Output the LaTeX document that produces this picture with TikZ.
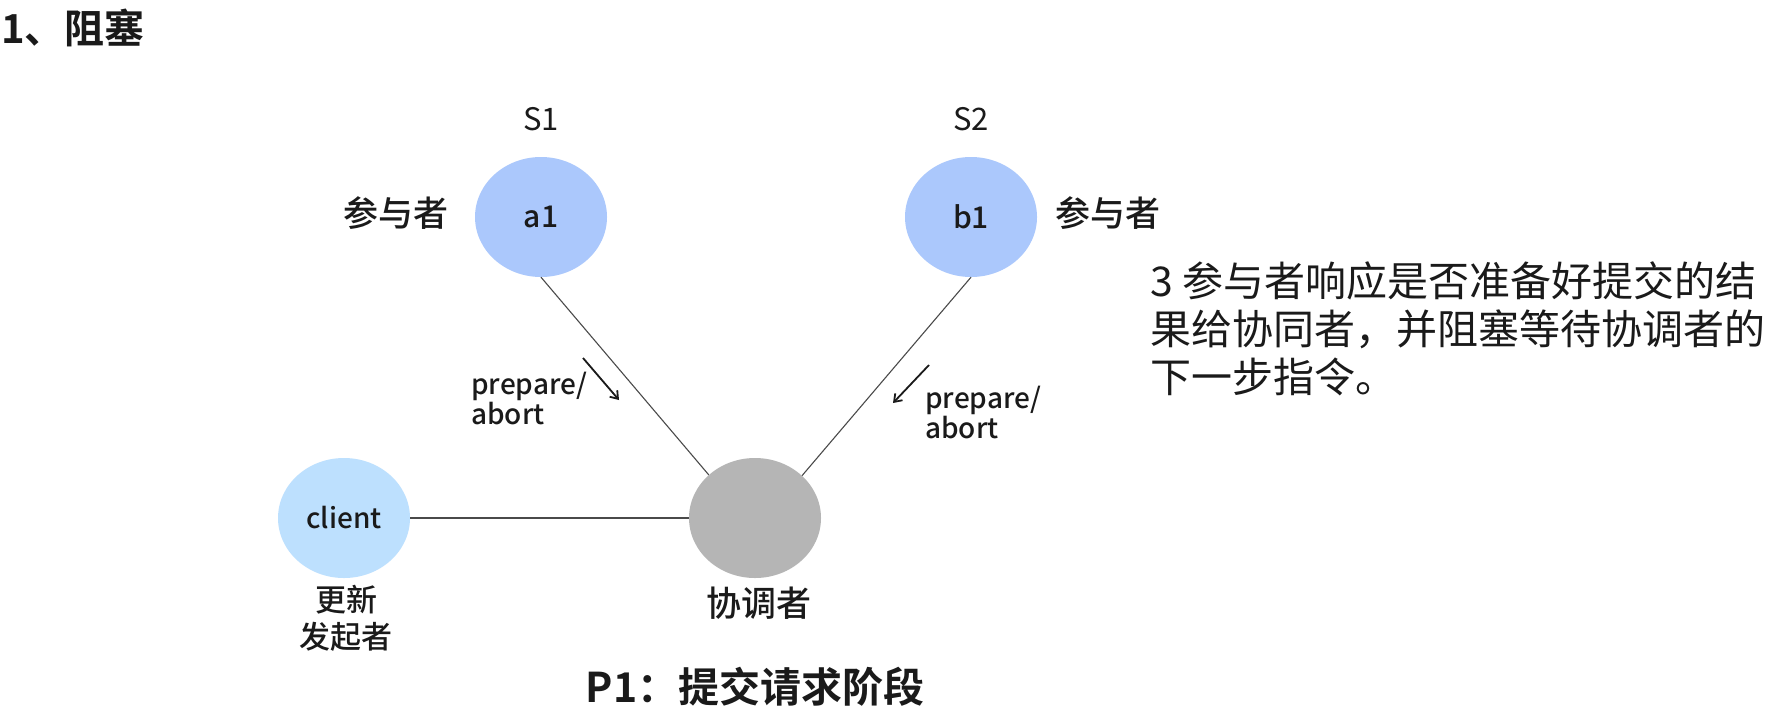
\documentclass[tikz,border=0pt]{standalone}
\usepackage{fontspec}
\setmainfont{Noto Sans CJK SC}
\newfontfamily\medf{Noto Sans CJK SC Medium}
\newfontfamily\boldf{Noto Sans CJK SC Bold}
\usetikzlibrary{shapes.geometric,arrows.meta}
\definecolor{partblue}{HTML}{ABC8FC}
\definecolor{clientblue}{HTML}{BDE0FE}
\definecolor{coordgray}{HTML}{B5B5B5}
\definecolor{linegray}{HTML}{4A4A4A}
\definecolor{inkblack}{HTML}{1A1A1A}
\tikzset{
  blob/.style={ellipse, minimum width=132pt, minimum height=120pt, inner sep=0pt, draw=none},
  txt/.style={inner sep=0pt, text=inkblack},
  small/.style={txt, font=\medf\fontsize{28}{30}\selectfont},
  role/.style={txt, font=\medf\fontsize{35}{40}\selectfont},
  link/.style={draw=linegray, line width=1.1pt},
  hint/.style={draw=inkblack, line width=1.8pt, -{Straight Barb[length=7pt,width=10pt]}},
}
\begin{document}
\begin{tikzpicture}[x=1pt,y=-1pt]
\useasboundingbox (0,0) rectangle (1776,713);
\fill[white] (0,0) rectangle (1776,713);

\node[txt, anchor=west, font=\boldf\fontsize{40}{44}\selectfont] (title) at (1,28) {1、阻塞};

\node[blob, fill=partblue] (a1) at (541,217) {};
\node[small, font=\medf\fontsize{30}{34}\selectfont] (a1t) at (a1) {a1};
\node[blob, fill=partblue] (b1) at (971,217) {};
\node[small, font=\medf\fontsize{30}{34}\selectfont] (b1t) at (b1) {b1};
\node[blob, fill=clientblue] (client) at (344,518) {};
\node[small] (clientt) at (client) {client};
\node[blob, fill=coordgray] (coord) at (755,518) {};

\node[txt, font=\fontsize{31}{36}\selectfont] (s1) at (541,119) {S1};
\node[txt, font=\fontsize{31}{36}\selectfont] (s2) at (971,119) {S2};
\node[role] (pa) at (396,213) {参与者};
\node[role] (pb) at (1108,213) {参与者};
\node[role] (coordl) at (759,603) {协调者};
\node[txt, align=center, font=\medf\fontsize{31}{37}\selectfont] (clientl) at (346,618) {更新\\发起者};

\node[small, align=left, anchor=west] (pl) at (471,398) {prepare/\\abort};
\node[small, align=left, anchor=west] (pr) at (925,412) {prepare/\\abort};

\node[txt, align=left, anchor=north west, font=\fontsize{41}{48}\selectfont] (note) at (1150,261)
  {3 参与者响应是否准备好提交的结\\果给协同者，并阻塞等待协调者的\\下一步指令。};

\node[txt, font=\boldf\fontsize{41}{46}\selectfont] (phase) at (755,687) {P1：提交请求阶段};

\draw[link] (a1.south) -- (coord.137.5);
\draw[link] (b1.south) -- (coord.42.5);
\draw[link] (client.east) -- (coord.west);

\coordinate (ha1) at (583,358);
\coordinate (ha2) at (619,400);
\coordinate (hb1) at (929,365);
\coordinate (hb2) at (893,403);
\draw[hint] (ha1) -- (ha2);
\draw[hint] (hb1) -- (hb2);
\end{tikzpicture}
\end{document}
